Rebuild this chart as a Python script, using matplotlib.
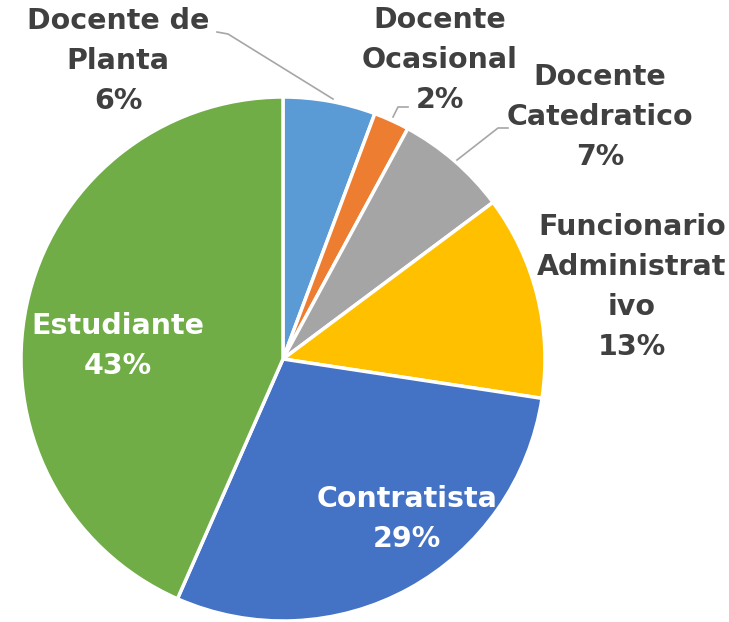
import matplotlib.pyplot as plt

categorias = ['Docente de\nPlanta', 'Docente\nOcasional', 'Docente\nCatedratico',
              'Funcionario\nAdministrat\nivo', 'Contratista', 'Estudiante']
valores = [5.7, 2.2, 6.9, 12.6, 29.2, 43.4]
etiquetas_pct = ['6%', '2%', '7%', '13%', '29%', '43%']
colores = ['#5B9BD5', '#ED7D31', '#A5A5A5', '#FFC000', '#4472C4', '#70AD47']

W, H = 729, 622
fig = plt.figure(figsize=(W / 100, H / 100), dpi=100)
ax = fig.add_axes([0, 0, 1, 1])

cx, cy, r = 283, H - 359, 262
ax.pie(valores, colors=colores, startangle=90, counterclock=False,
       center=(cx, cy), radius=r, frame=True,
       wedgeprops=dict(edgecolor='white', linewidth=2.5))
ax.set_xlim(0, W)
ax.set_ylim(0, H)
ax.set_aspect('equal')
ax.axis('off')

fuente = dict(family='DejaVu Sans', weight='bold', fontsize=20.5,
              ha='center', va='center', linespacing=1.55)
gris = '#404040'

# (x, y desde arriba) del centro de cada etiqueta
pos = [(118, 61), (440, 60), (600, 117), (632, 287), (407, 519), (118, 346)]
for i, (cat, p) in enumerate(zip(categorias, etiquetas_pct)):
    x, y = pos[i]
    col = 'white' if i >= 4 else gris
    ax.text(x, H - y, f'{cat}\n{p}', color=col, **fuente)

# lineas guia
lineas = [
    [(217, 32), (228, 34), (333, 99)],
    [(408, 107), (398, 107), (393, 117)],
    [(508, 128), (498, 128), (457, 160)],
]
for ln in lineas:
    xs = [p[0] for p in ln]
    ys = [H - p[1] for p in ln]
    ax.plot(xs, ys, color='#A6A6A6', linewidth=1.2)

fig.savefig('out.png', dpi=100, facecolor='white')
